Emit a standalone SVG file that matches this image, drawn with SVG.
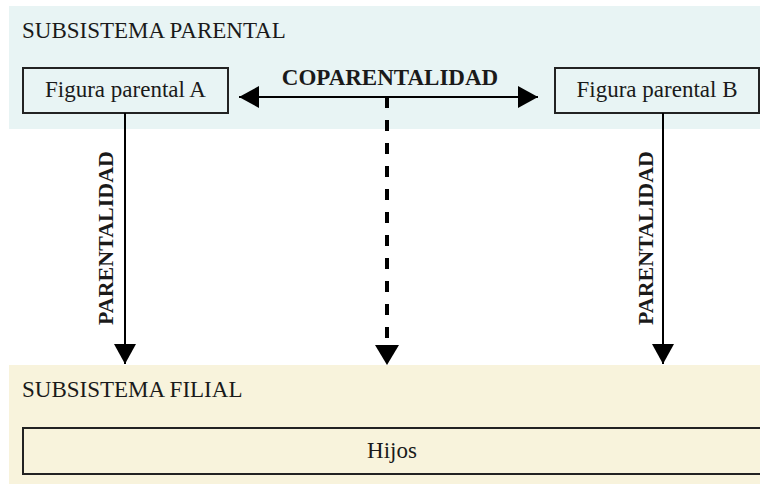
<svg xmlns="http://www.w3.org/2000/svg" width="760" height="484" viewBox="0 0 760 484">
<defs>
<style>
text{font-family:"Liberation Serif",serif;fill:#1a1a1a}
.t{font-size:23px}
.b{font-size:23px;font-weight:bold}
.v{font-size:22px;font-weight:bold}
.box{stroke:#222;stroke-width:2}
.ln{stroke:#000;stroke-width:2;fill:none}
</style>
<marker id="ahL" viewBox="0 0 20 22" refX="20" refY="11" markerWidth="20" markerHeight="22" markerUnits="userSpaceOnUse" orient="auto-start-reverse">
<path d="M0,0 L20,11 L0,22 z" fill="#000"/>
</marker>
<marker id="ahD" viewBox="0 0 20 24" refX="20" refY="12" markerWidth="20" markerHeight="24" markerUnits="userSpaceOnUse" orient="auto">
<path d="M0,0 L20,12 L0,24 z" fill="#000"/>
</marker>
</defs>
<g id="parental">
<rect x="9" y="6" width="751" height="123" fill="#e8f4f4"/>
<text class="t" x="22" y="38">SUBSISTEMA PARENTAL</text>
</g>
<g id="filial">
<rect x="9" y="365" width="751" height="119" fill="#f8f3dc"/>
<text class="t" x="22" y="397">SUBSISTEMA FILIAL</text>
</g>
<g id="figA">
<rect class="box" x="23" y="68" width="205" height="45" fill="#e8f4f4"/>
<text class="t" x="125.5" y="97" text-anchor="middle">Figura parental A</text>
</g>
<g id="figB">
<rect class="box" x="555" y="68" width="204" height="45" fill="#e8f4f4"/>
<text class="t" x="657" y="97" text-anchor="middle">Figura parental B</text>
</g>
<g id="hijos">
<rect class="box" x="23" y="428" width="742" height="46" fill="#f8f3dc"/>
<text class="t" x="392" y="458" text-anchor="middle">Hijos</text>
</g>
<g id="connectors">
<line class="ln" x1="239" y1="97" x2="538" y2="97" marker-start="url(#ahL)" marker-end="url(#ahL)"/>
<text class="b" x="390" y="85" text-anchor="middle">COPARENTALIDAD</text>
<line x1="387" y1="97" x2="387" y2="365" stroke="#000" stroke-width="4" stroke-dasharray="11 12" marker-end="url(#ahD)"/>
<line class="ln" x1="125" y1="113" x2="125" y2="364" marker-end="url(#ahL)"/>
<line class="ln" x1="663" y1="113" x2="663" y2="364" marker-end="url(#ahL)"/>
<text class="v" transform="translate(113,238) rotate(-90)" text-anchor="middle">PARENTALIDAD</text>
<text class="v" transform="translate(653,238) rotate(-90)" text-anchor="middle">PARENTALIDAD</text>
</g>
</svg>
